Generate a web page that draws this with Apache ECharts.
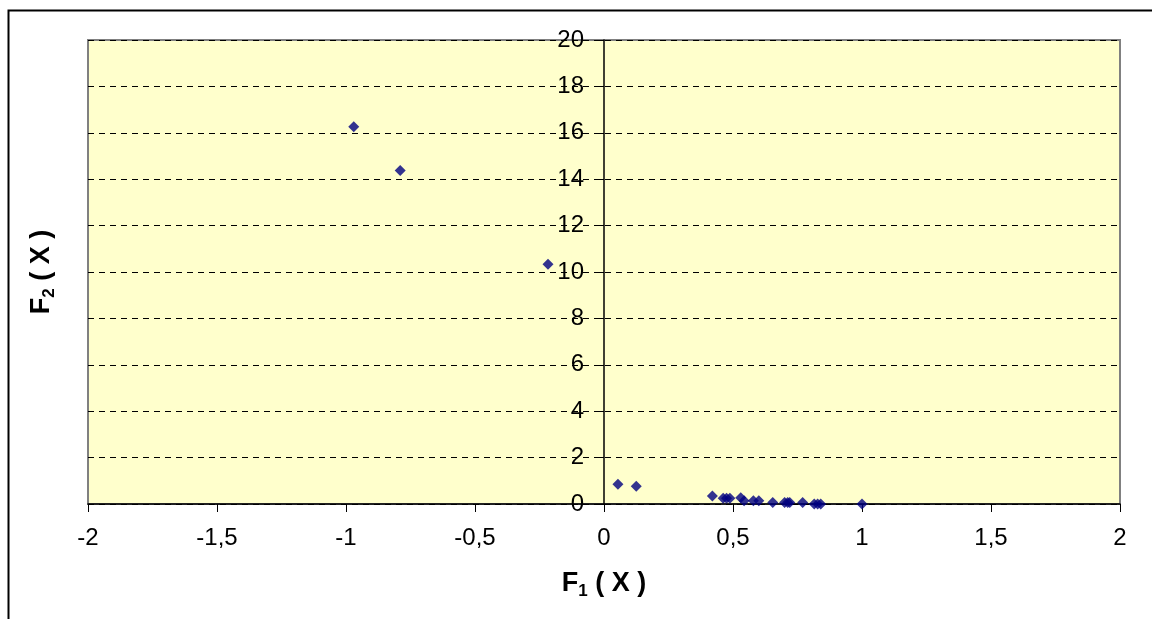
<!DOCTYPE html>
<html>
<head>
<meta charset="utf-8">
<style>html,body{margin:0;padding:0;background:#fff;}#c{width:1152px;height:619px;}</style>
<script src="https://cdn.jsdelivr.net/npm/echarts@6/dist/echarts.min.js"></script>
</head>
<body>
<div id="c"></div>
<script>
const f1Values = [-0.97, -0.79, -0.217, 0.054, 0.125, 0.42, 0.462, 0.475, 0.488, 0.53, 0.543, 0.579, 0.60, 0.654, 0.70, 0.712, 0.72, 0.77, 0.815, 0.828, 0.84, 1.0];
const f2Values = [16.26, 14.37, 10.33, 0.85, 0.76, 0.34, 0.25, 0.25, 0.25, 0.27, 0.14, 0.14, 0.14, 0.07, 0.07, 0.07, 0.07, 0.07, 0.0, 0.0, 0.0, 0.0];
const xTickLabels = ['-2', '-1,5', '-1', '-0,5', '0', '0,5', '1', '1,5', '2'];
const yTickLabels = ['0', '2', '4', '6', '8', '10', '12', '14', '16', '18', '20'];

const points = f1Values.map((x, i) => [x, f2Values[i]]);
const font = 'Liberation Sans, Arial, sans-serif';
const titleRich = () => ({
  b: {fontFamily: font, fontWeight: 'bold', fontSize: 27, color: '#000'},
  s: {fontFamily: font, fontWeight: 'bold', fontSize: 17, color: '#000', verticalAlign: 'bottom', padding: [15, 0, 0, 0]}
});

const gridLeft = 88, gridRight = 32;
const plotW = 1152 - gridLeft - gridRight;
const zeroOffset = plotW * (0 - (-2)) / 4; // pixel distance from left edge to x = 0

const chart = echarts.init(document.getElementById('c'), null, {renderer: 'canvas'});
chart.setOption({
  backgroundColor: '#ffffff',
  animation: false,
  graphic: [{
    type: 'rect', left: 6, top: 8, shape: {width: 1200, height: 700},
    style: {fill: 'none', stroke: '#000', lineWidth: 2}, z: -10, silent: true
  }],
  grid: {
    left: gridLeft, right: gridRight, top: 40, bottom: 115,
    containLabel: false, outerBoundsMode: 'none',
    show: true, backgroundColor: '#FFFFCC', borderColor: '#808080', borderWidth: 2
  },
  xAxis: {
    type: 'value', min: -2, max: 2, interval: 0.5,
    name: '{b|F}{s|1}{b| ( X )}', nameLocation: 'middle', nameGap: 64,
    nameTextStyle: {rich: titleRich()},
    axisLine: {onZero: true, lineStyle: {color: '#000', width: 1.5}},
    axisTick: {show: true, inside: false, length: 8, lineStyle: {color: '#000'}},
    axisLabel: {fontFamily: font, fontSize: 24, color: '#000', margin: 22,
      formatter: v => xTickLabels[Math.round((v + 2) / 0.5)]},
    splitLine: {show: false}
  },
  yAxis: {
    type: 'value', min: 0, max: 20, interval: 2,
    position: 'left', offset: -zeroOffset,
    name: '{b|F}{s|2}{b| ( X )}', nameLocation: 'middle', nameGap: gridLeft + zeroOffset - 58, nameRotate: 90,
    nameTextStyle: {rich: titleRich()},
    axisLine: {onZero: false, lineStyle: {color: '#000', width: 1.5}},
    axisTick: {show: true, inside: false, length: 8, lineStyle: {color: '#000'}},
    axisLabel: {fontFamily: font, fontSize: 24, color: '#000', margin: 20,
      formatter: v => yTickLabels[Math.round(v / 2)]},
    splitLine: {show: true, lineStyle: {color: '#000', type: [6, 5], width: 1}}
  },
  series: [{
    type: 'scatter', data: points, symbol: 'diamond', symbolSize: 11,
    itemStyle: {color: '#000080'}, z: 5
  }]
});
</script>
</body>
</html>
